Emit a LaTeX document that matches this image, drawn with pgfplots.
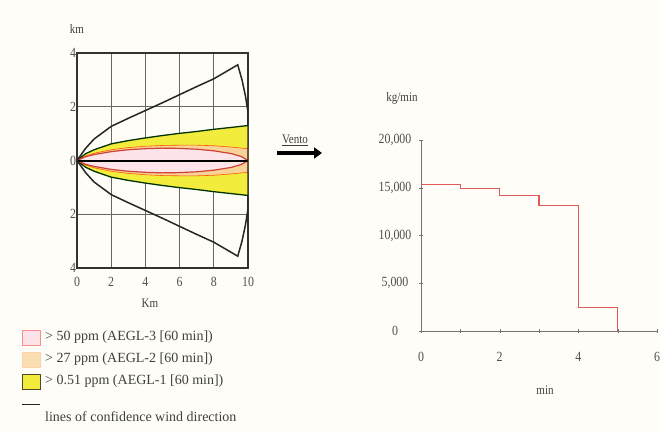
\documentclass[border=0pt]{standalone}
\usepackage{fontspec}
\setmainfont{Liberation Serif}
\newfontfamily\cond[FakeStretch=0.85]{Liberation Serif}
\usepackage{pgfplots}
\pgfplotsset{compat=1.18}
\usetikzlibrary{arrows.meta}
\definecolor{bgcream}{RGB}{254,253,247}
\definecolor{aeglone}{RGB}{242,236,60}
\definecolor{aegltwo}{RGB}{248,210,150}
\definecolor{aeglthree}{RGB}{252,228,232}
\definecolor{redline}{RGB}{205,65,55}
\definecolor{steps}{RGB}{224,90,90}
\definecolor{tickgray}{RGB}{80,80,80}
\begin{document}
\begin{tikzpicture}
\path[use as bounding box, fill=bgcream] (0pt,0pt) rectangle (660pt,433pt);
% ---------- left: plume map ----------
\begin{axis}[
  at={(77pt,165pt)}, anchor=south west, scale only axis,
  width=171pt, height=215pt,
  xmin=0, xmax=10, ymin=-4, ymax=4,
  xtick={0,2,...,10}, ytick={-4,-2,0,2,4}, yticklabels={4,2,0,2,4},
  grid=major, major grid style={draw=black!60, line width=0.8pt},
  axis line style={draw=black!80, line width=1.2pt},
  major tick length=0pt,
  /pgf/number format/assume math mode=true,
  tick label style={font=\fontsize{14}{14}\cond, text=tickgray},
  xticklabel style={anchor=center, yshift=-14pt},
  yticklabel style={anchor=center, xshift=-4pt},
]
\addplot[fill=aeglone, draw=none] coordinates {(0,0)(0.5,0.25)(1,0.4)(2,0.62)(3,0.74)(4,0.84)(5,0.93)(6,1.01)(7,1.08)(8,1.16)(9,1.23)(10,1.3)(10,-1.3)(9,-1.23)(8,-1.16)(7,-1.08)(6,-1.01)(5,-0.93)(4,-0.84)(3,-0.74)(2,-0.62)(1,-0.4)(0.5,-0.25)(0,0)};
\addplot[draw=black!80!green, line width=1.3pt] coordinates {(0,0)(0.5,0.25)(1,0.4)(2,0.62)(3,0.74)(4,0.84)(5,0.93)(6,1.01)(7,1.08)(8,1.16)(9,1.23)(10,1.3)};
\addplot[draw=black!80!green, line width=1.3pt] coordinates {(0,0)(0.5,-0.25)(1,-0.4)(2,-0.62)(3,-0.74)(4,-0.84)(5,-0.93)(6,-1.01)(7,-1.08)(8,-1.16)(9,-1.23)(10,-1.3)};
\addplot[fill=aegltwo, draw=orange!70!red, line width=0.6pt] coordinates {(0,0)(0.5,0.17)(1,0.27)(2,0.4)(3,0.48)(4,0.53)(5,0.56)(6,0.57)(7,0.57)(8,0.55)(9,0.5)(10,0.44)(10,-0.44)(9,-0.5)(8,-0.55)(7,-0.57)(6,-0.57)(5,-0.56)(4,-0.53)(3,-0.48)(2,-0.4)(1,-0.27)(0.5,-0.17)(0,0)};
\addplot[fill=aeglthree, draw=redline, line width=1.2pt] coordinates {(0,0)(0.5,0.14)(1,0.22)(2,0.33)(3,0.4)(4,0.44)(5,0.46)(6,0.45)(7,0.42)(8,0.36)(9,0.26)(9.6,0.15)(10,0)(9.6,-0.15)(9,-0.26)(8,-0.36)(7,-0.42)(6,-0.45)(5,-0.46)(4,-0.44)(3,-0.4)(2,-0.33)(1,-0.22)(0.5,-0.14)(0,0)};
\addplot[draw=black, line width=2pt] coordinates {(0,0)(10,0)};
\addplot[draw=black!85, line width=1.5pt] coordinates {(0,0)(0.5,0.45)(1,0.8)(2,1.27)(3,1.57)(4,1.86)(5,2.15)(6,2.45)(7,2.75)(8,3.04)(9.4,3.56)(9.65,3.0)(9.85,2.4)(10,1.8)(10,-1.8)(9.85,-2.4)(9.65,-3.0)(9.4,-3.56)(8,-3.04)(7,-2.75)(6,-2.45)(5,-2.15)(4,-1.86)(3,-1.57)(2,-1.27)(1,-0.8)(0.5,-0.45)(0,0)};
\end{axis}
% ---------- right: release rate ----------
\begin{axis}[
  at={(421pt,102pt)}, anchor=south west, scale only axis,
  width=236pt, height=191pt,
  xmin=0, xmax=6, ymin=0, ymax=20000,
  axis x line=bottom, axis y line=left,
  axis line style={-, draw=black!55, line width=0.9pt},
  xtick={0,...,6}, xticklabels={0,,2,,4,,6},
  ytick={0,5000,...,20000},
  scaled y ticks=false,
  /pgf/number format/assume math mode=true,
  yticklabel style={/pgf/number format/1000 sep={,}},
  tick align=center, major tick length=4pt, tick style={draw=black!55},
  tick label style={font=\fontsize{14}{14}\cond, text=tickgray},
  xticklabel style={anchor=center, yshift=-24pt},
  yticklabel style={anchor=center, xshift=-24pt},
]
\addplot[const plot, draw=steps, line width=1.1pt] coordinates {(0,15300)(1,14950)(2,14200)(3,13150)(4,2450)(5,0)};
\end{axis}
% ---------- labels ----------
\node[font=\fontsize{13}{13}\cond, text=black!75] at (77pt,404pt) {km};
\node[font=\fontsize{13}{13}\cond, text=black!75] at (150pt,130pt) {Km};
\node[font=\fontsize{13}{13}\cond, text=black!75] at (402pt,335pt) {kg/min};
\node[font=\fontsize{13}{13}\cond, text=black!75] at (545pt,43pt) {min};
\node[font=\fontsize{13}{13}\cond, text=black!75] at (295pt,293pt) {\underline{Vento}};
\draw[line width=3.5pt, -{Triangle[length=8pt,width=11pt]}] (277pt,280pt) -- (322pt,280pt);
% ---------- legend ----------
\draw[fill=aeglthree, draw=red!45] (22pt,88pt) rectangle (40pt,103pt);
\draw[fill=aegltwo!70, draw=orange!35] (22pt,66pt) rectangle (40pt,81pt);
\draw[fill=aeglone, draw=black!60!olive] (22pt,44pt) rectangle (40pt,59pt);
\draw[black!85, line width=1pt] (22pt,28pt) -- (40pt,28pt);
\begin{scope}[every node/.style={anchor=west, font=\fontsize{14}{14}\selectfont, text=black!75, inner sep=0pt}]
\node at (45pt,96pt) {> 50 ppm (AEGL-3 [60 min])};
\node at (45pt,74pt) {> 27 ppm (AEGL-2 [60 min])};
\node at (45pt,52pt) {> 0.51 ppm (AEGL-1 [60 min])};
\node at (45pt,16pt) {lines of confidence wind direction};
\end{scope}
\end{tikzpicture}
\end{document}
